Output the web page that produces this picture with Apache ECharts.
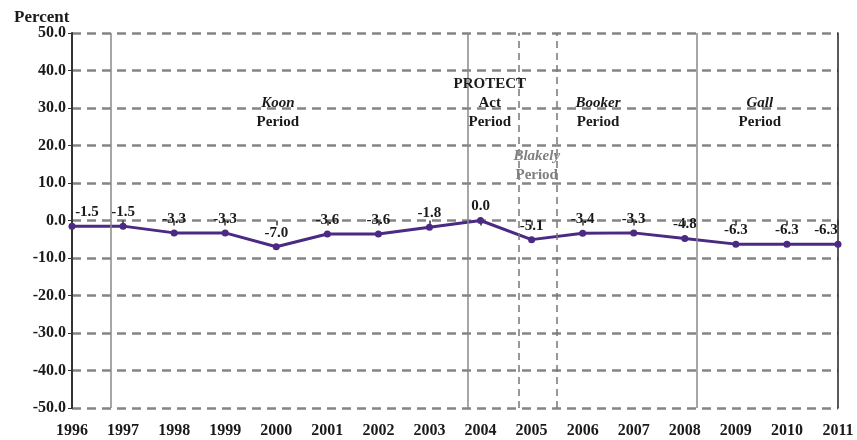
<!DOCTYPE html>
<html><head><meta charset="utf-8">
<script src="https://cdn.jsdelivr.net/npm/echarts@6/dist/echarts.min.js"></script>
<style>html,body{margin:0;padding:0;background:#fff}#c{width:857px;height:440px}</style>
</head><body><div id="c"></div>
<script>
const years = [1996,1997,1998,1999,2000,2001,2002,2003,2004,2005,2006,2007,2008,2009,2010,2011];
const values = [-1.5,-1.5,-3.3,-3.3,-7.0,-3.6,-3.6,-1.8,0.0,-5.1,-3.4,-3.3,-4.8,-6.3,-6.3,-6.3];
const yTicks = [-50,-40,-30,-20,-10,0,10,20,30,40,50];
const solidDividers = [1996.76, 2003.75, 2008.24];
const dashedDividers = [2004.75, 2005.5];
const periods = [
  {x:2000.03, y:28.8, name:'Koon', italic:true, color:'#1a1a1a'},
  {x:2004.18, y:31.2, name:'PROTECT\nAct', italic:false, color:'#1a1a1a'},
  {x:2005.1, y:14.7, name:'Blakely', italic:true, color:'#808080'},
  {x:2006.3, y:28.8, name:'Booker', italic:true, color:'#1a1a1a'},
  {x:2009.47, y:28.8, name:'Gall', italic:true, color:'#1a1a1a'}
];
const serif = '"Liberation Serif","DejaVu Serif",serif';
const labelOffsets = {0:[15,0], 15:[-12,0]};
const chart = echarts.init(document.getElementById('c'));
chart.setOption({
  animation:false,
  backgroundColor:'#fff',
  title:{text:'Percent',left:9,top:4,textStyle:{fontFamily:serif,fontWeight:'bold',fontSize:17,color:'#1a1a1a'}},
  grid:{left:72,right:19,top:33,bottom:32,containLabel:false},
  xAxis:{type:'value',min:1996,max:2011,interval:1,
    axisLine:{show:false},
    axisTick:{show:true,length:5,lineStyle:{color:'#333',width:1.5}},
    axisLabel:{fontFamily:serif,fontWeight:'bold',fontSize:16,color:'#1a1a1a',margin:15,formatter:v=>String(v)},
    splitLine:{show:false}},
  yAxis:[{type:'value',min:-50,max:50,interval:10,
    axisLine:{show:true,lineStyle:{color:'#333',width:2}},
    axisTick:{show:true,length:4,lineStyle:{color:'#333'}},
    axisLabel:{fontFamily:serif,fontWeight:'bold',fontSize:16,color:'#1a1a1a',margin:6,formatter:v=>v.toFixed(1)},
    splitLine:{show:true,lineStyle:{color:'#858585',width:2.5,type:[9,6]}}},
   {type:'value',min:-50,max:50,interval:10,position:'right',
    axisLine:{show:true,lineStyle:{color:'#222',width:1.5}},
    axisTick:{show:false},axisLabel:{show:false},splitLine:{show:false}}],
  series:[{
    type:'line',
    data:years.map((y,i)=>labelOffsets[i]?{value:[y,values[i]],label:{offset:labelOffsets[i]}}:[y,values[i]]),
    symbol:'circle',symbolSize:7,
    lineStyle:{color:'#4a2a82',width:3},
    itemStyle:{color:'#4a2a82'},
    label:{show:true,position:'top',distance:3,fontFamily:serif,fontWeight:'bold',fontSize:15,color:'#1a1a1a',
      formatter:p=>p.value[1].toFixed(1)},
    markLine:{silent:true,symbol:'none',label:{show:false},
      data:[
        ...solidDividers.map(x=>({xAxis:x,lineStyle:{color:'#888',width:1.5,type:'solid'}})),
        ...dashedDividers.map(x=>({xAxis:x,lineStyle:{color:'#777',width:1.5,type:[7,5]}}))
      ]},
    markPoint:{silent:true,symbol:'circle',symbolSize:0,
      data:periods.map(p=>({coord:[p.x,p.y],
        label:{show:true,position:'inside',align:'center',
          formatter:'{a|'+p.name.split('\n').join('}\n{a|')+'}\n{b|Period}',
          rich:{
            a:{fontFamily:serif,fontWeight:'bold',fontStyle:p.italic?'italic':'normal',fontSize:15,color:p.color,lineHeight:19},
            b:{fontFamily:serif,fontWeight:'bold',fontSize:15,color:p.color,lineHeight:19}
          }}}))}
  }]
});
</script></body></html>
